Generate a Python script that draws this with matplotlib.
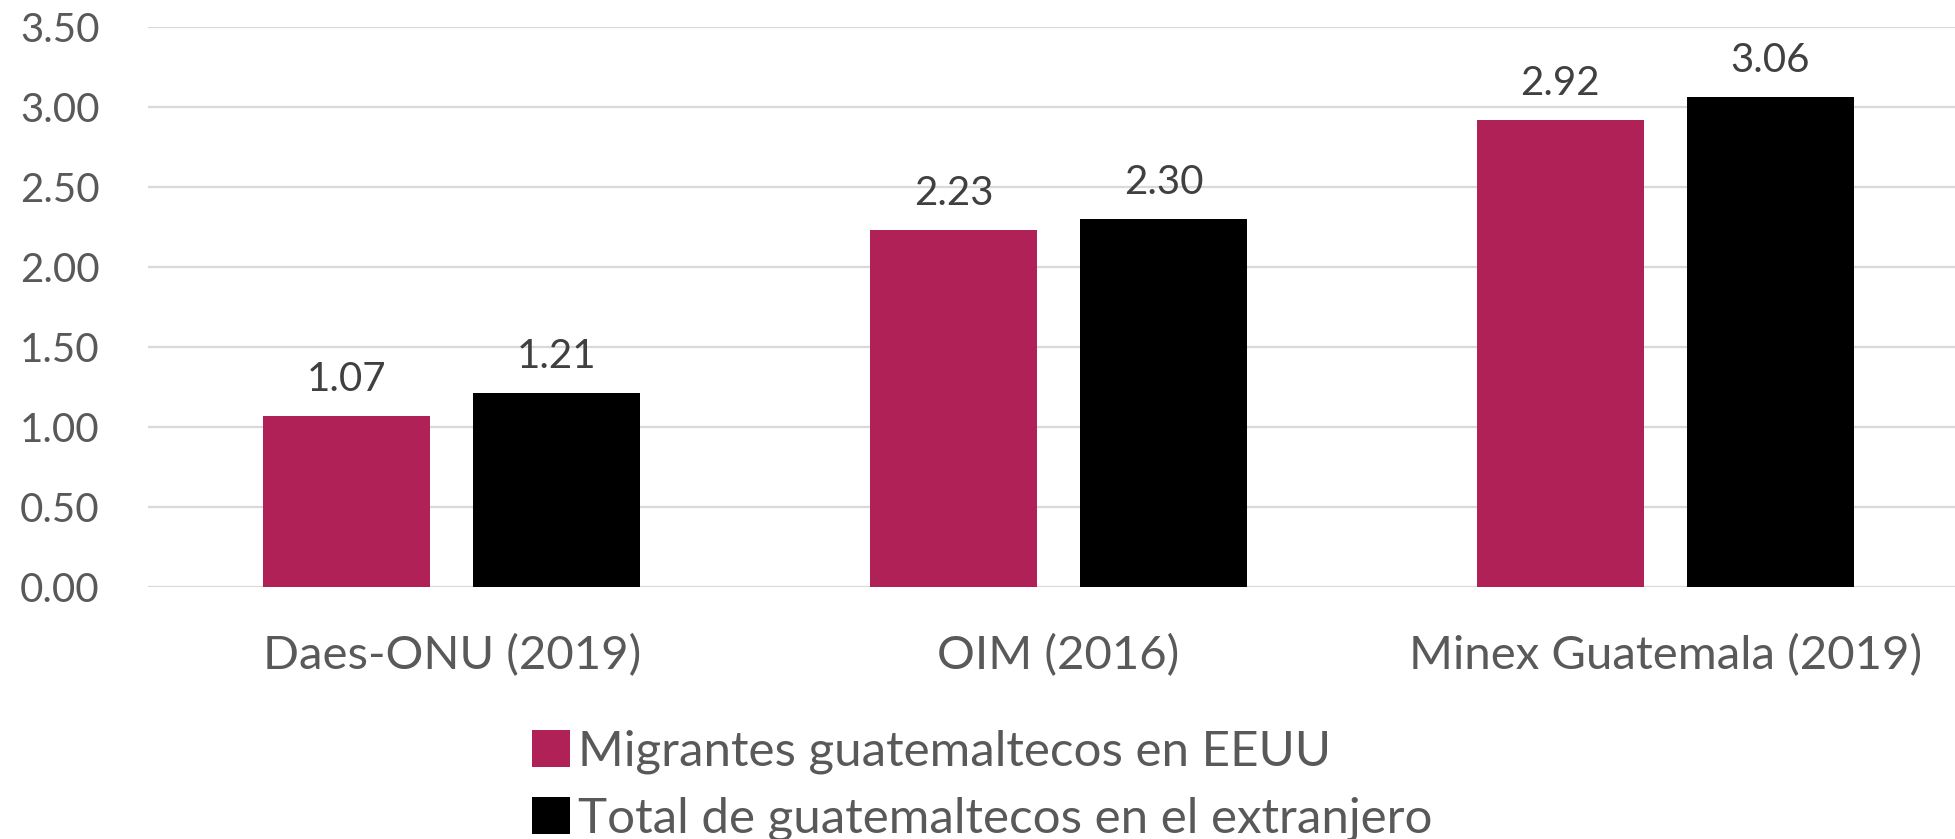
import matplotlib
matplotlib.use("Agg")
import matplotlib.pyplot as plt
import numpy as np

plt.rcParams["font.family"] = ["Lato", "DejaVu Sans"]

categories = ["Daes-ONU (2019)", "OIM (2016)", "Minex Guatemala (2019)"]
series_names = ["Migrantes guatemaltecos en EEUU", "Total de guatemaltecos en el extranjero"]
migrantes_eeuu = [1.07, 2.23, 2.92]
total_extranjero = [1.21, 2.30, 3.06]
yticks = [0.0, 0.5, 1.0, 1.5, 2.0, 2.5, 3.0, 3.5]

colors = ["#B02257", "#000000"]
text_color = "#595959"

fig = plt.figure(figsize=(19.56, 8.39), dpi=100)
ax = fig.add_axes([0.0759, 0.3004, 0.9305, 0.6674])

x = np.arange(len(categories))
width = 0.275
offset = 0.173

for i, (vals, name) in enumerate(zip([migrantes_eeuu, total_extranjero], series_names)):
    pos = x - offset if i == 0 else x + offset
    bars = ax.bar(pos, vals, width, color=colors[i], label=name, zorder=3)
    ax.bar_label(bars, labels=[f"{v:.2f}" for v in vals], padding=13,
                 fontsize=29, color="#404040")

ax.set_xlim(-0.5, 2.5)
ax.set_ylim(0, 3.5)
ax.set_yticks(yticks)
ax.set_yticklabels([f"{v:.2f}" for v in yticks])
ax.set_xticks(x)
ax.set_xticklabels(categories)
ax.tick_params(axis="y", length=0, pad=35, labelsize=29, labelcolor=text_color)
ax.tick_params(axis="x", length=0, pad=34, labelsize=34, labelcolor=text_color)
ax.grid(axis="y", color="#D9D9D9", linewidth=1.6, zorder=0)
for s in ax.spines.values():
    s.set_visible(False)

leg = fig.legend(loc="center", bbox_to_anchor=(0.502, 0.064), ncol=1, frameon=False,
                 fontsize=35.5, handlelength=0.78, handleheight=0.78, handletextpad=0.15,
                 labelspacing=0.45, labelcolor=text_color)

fig.savefig("out.png", dpi=100)
